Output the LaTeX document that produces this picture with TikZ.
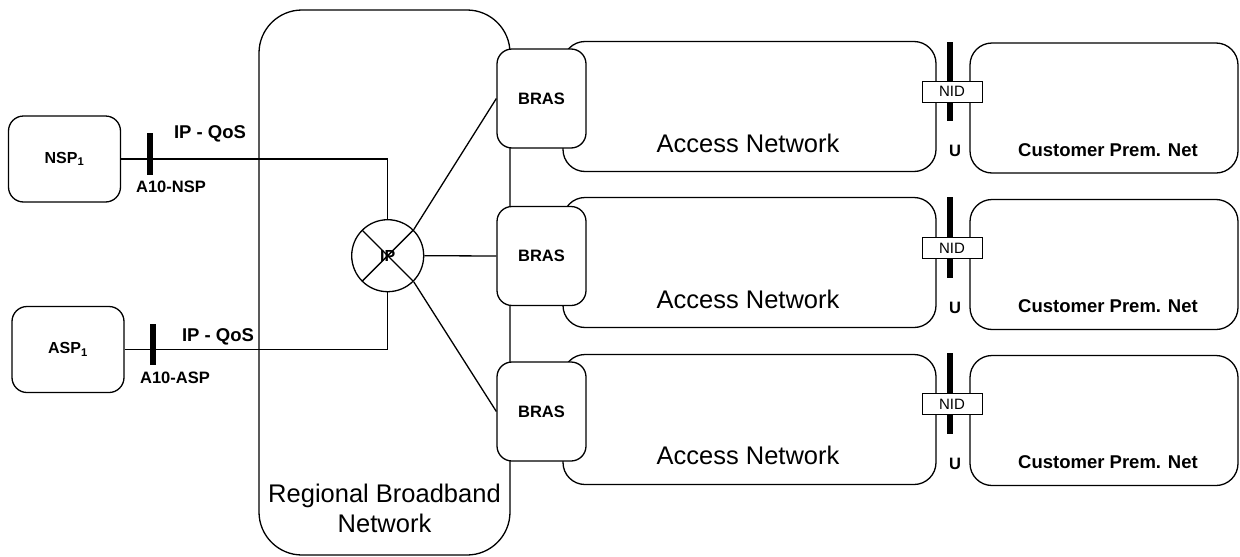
\documentclass[tikz,border=0pt]{standalone}
\usepackage{fontspec}
\setmainfont{Liberation Sans}
\usepackage{tikz}
\usetikzlibrary{arrows.meta,shapes,positioning}

\begin{document}
\begin{tikzpicture}[x=1pt, y=-1pt,
    box/.style={rectangle, draw, fill=white, line width=1.3pt, rounded corners=15pt, inner sep=0pt},
    netbox/.style={box, rounded corners=22pt, minimum height=130pt},
    brasbox/.style={box, minimum width=89pt, minimum height=99pt, font=\fontsize{16.5}{19}\selectfont\bfseries},
    spbox/.style={box, minimum width=112pt, minimum height=86pt, font=\fontsize{16}{19}\selectfont\bfseries},
    bar/.style={rectangle, fill=black, minimum width=6pt, inner sep=0pt},
    nidbox/.style={rectangle, draw, fill=white, line width=1pt, minimum width=60pt, minimum height=21pt, inner sep=0pt, font=\fontsize{15}{17}\selectfont},
    bigtext/.style={font=\fontsize{25.5}{30}\selectfont, align=center},
    boldtext/.style={font=\fontsize{18.5}{21}\selectfont\bfseries},
    smalltext/.style={font=\fontsize{16.5}{19}\selectfont\bfseries},
    link/.style={line width=1.3pt}
]
    \useasboundingbox (0,0) rectangle (1240,557);

    % regional network
    \node[box, rounded corners=43pt, minimum width=251pt, minimum height=545pt] (rbn) at (384.5,282.5) {};
    \node[bigtext] (rbnlabel) at (384.5,508) {Regional Broadband\\Network};

    % access networks
    \node[netbox, minimum width=373pt] (acc1) at (749.5,106.5) {};
    \node[netbox, minimum width=373pt] (acc2) at (749.5,262.5) {};
    \node[netbox, minimum width=373pt] (acc3) at (749.5,419.5) {};
    \node[bigtext] (acc1label) at (748,143) {Access Network};
    \node[bigtext] (acc2label) at (748,299) {Access Network};
    \node[bigtext] (acc3label) at (748,455) {Access Network};

    % customer premises
    \node[netbox, minimum width=268pt] (cpn1) at (1104,108) {};
    \node[netbox, minimum width=268pt] (cpn2) at (1104,264.5) {};
    \node[netbox, minimum width=268pt] (cpn3) at (1104,420.5) {};
    \node[boldtext] (cpn1label) at (1108,150) {Customer Prem. Net};
    \node[boldtext] (cpn2label) at (1108,306) {Customer Prem. Net};
    \node[boldtext] (cpn3label) at (1108,462) {Customer Prem. Net};

    % BRAS
    \node[brasbox] (bras1) at (541.5,98.5) {BRAS};
    \node[brasbox] (bras2) at (541.5,256) {BRAS};
    \node[brasbox] (bras3) at (541.5,411.5) {BRAS};

    % U reference points
    \node[bar, minimum height=79pt] (ubar1) at (950,81.5) {};
    \node[bar, minimum height=81pt] (ubar2) at (950,237.5) {};
    \node[bar, minimum height=81pt] (ubar3) at (950,393.5) {};
    \node[nidbox] (nid1) at (952,91.5) {NID};
    \node[nidbox] (nid2) at (952,248) {NID};
    \node[nidbox] (nid3) at (952,404) {NID};
    \node[smalltext] (u1) at (955,151) {U};
    \node[smalltext] (u2) at (955,308) {U};
    \node[smalltext] (u3) at (955,464) {U};

    % service providers
    \node[spbox] (nsp) at (64.5,159) {NSP\textsubscript{1}};
    \node[spbox] (asp) at (68,349.5) {ASP\textsubscript{1}};

    % IP node
    \node[circle, draw, fill=white, line width=1.3pt, minimum size=72pt, inner sep=0pt,
          font=\fontsize{16}{19}\selectfont\bfseries,
          path picture={\draw[line width=1.3pt] (path picture bounding box.north west) -- (path picture bounding box.south east)
                        (path picture bounding box.north east) -- (path picture bounding box.south west);}]
          (ip) at (387.7,255.7) {\raisebox{-9pt}{IP}};

    \draw[link] (nsp.east) -| (ip.north);
    \draw[link] (asp.east) -| (ip.south);
    \draw[link] (ip.45) -- (bras1.west);
    \draw[link] (ip.east) -- (bras2.west);
    \draw[link] (ip.-45) -- (bras3.west);

    % A10 reference points
    \node[bar, minimum height=42pt] (a10nsp) at (150,154) {};
    \node[bar, minimum height=41pt] (a10asp) at (153,344.5) {};
    \node[boldtext] (qos1) at (210,134) {IP - QoS};
    \node[boldtext] (qos2) at (218,337) {IP - QoS};
    \node[smalltext] (a10nsplabel) at (171,187) {A10-NSP};
    \node[smalltext] (a10asplabel) at (175,378) {A10-ASP};
\end{tikzpicture}
\end{document}
